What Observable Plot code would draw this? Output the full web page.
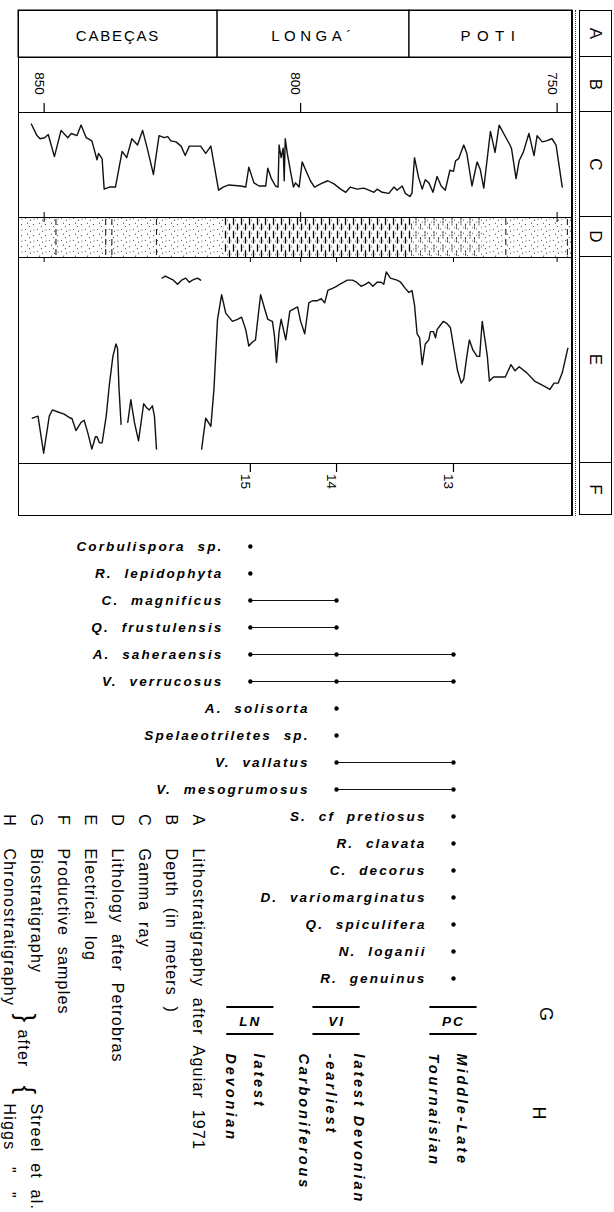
<!DOCTYPE html>
<html>
<head>
<meta charset="utf-8">
<script src="https://cdn.jsdelivr.net/npm/d3@7"></script>
<script src="https://cdn.jsdelivr.net/npm/@observablehq/plot@0.6"></script>
<style>
html, body { margin: 0; padding: 0; background: #fff; }
#fig { position: relative; width: 614px; height: 1212px; overflow: hidden; background: #fff;
       font-family: "Liberation Sans", Arial, sans-serif; color: #000; }
.panel { position: absolute; left: 0; width: 614px; }
.rc { position: absolute; left: 579px; width: 33px; box-sizing: border-box; border: 1px solid #000; }
.rc .cell { position: absolute; left: 0; right: 0; box-sizing: border-box; border-bottom: 1px solid #000;
            display: flex; align-items: center; justify-content: center; }
.rc .cell:last-child { border-bottom: none; }
.rc .cell span { display: inline-block; transform: rotate(90deg); font-size: 17px; line-height: 1; }
.vline { position: absolute; }
</style>
</head>
<body>
<div id="fig"></div>
<script>
// ---------------- DATA ----------------
const formations = ["CABEÇAS", "LONGA\u00B4", "POTI"];
const formationTop = [855, 816.2, 778.8];
const formationBase = [816.2, 778.8, 747];

const depthTicks = [850, 800, 750];

// Gamma ray (C): depth (m) and relative reading (0 = top of track)
const gammaDepth = [852.5, 851.4, 850.8, 849.9, 849.2, 848.0, 846.7, 845.4, 844.7, 843.6,
  842.8, 841.8, 840.7, 839.7, 839.4, 838.7, 838.3, 837.3, 836.1, 834.8,
  833.9, 832.9, 831.8, 830.8, 829.8, 828.7, 827.6, 826.6, 825.9, 825.3,
  824.3, 823.3, 822.5, 821.7, 819.9, 819.5, 818.5, 817.5, 816.0, 815.1,
  814.0, 811.7, 810.7, 810.1, 809.1, 808.1, 806.8, 806.4, 805.7, 804.9,
  804.4, 804.2, 803.8, 803.4, 803.2, 803.0, 802.6, 801.9, 801.4, 801.0,
  800.3, 799.7, 799.0, 798.1, 797.3, 796.1, 794.7, 793.5, 792.2, 791.2,
  790.3, 789.0, 787.7, 786.7, 785.7, 785.1, 784.1, 782.8, 781.8, 781.2,
  780.2, 779.6, 778.7, 778.3, 777.8, 777.0, 776.3, 775.7, 775.0, 774.2,
  773.4, 772.6, 771.8, 770.9, 770.2, 769.8, 769.2, 768.2, 767.6, 766.6,
  765.6, 765.0, 764.3, 763.0, 762.1, 761.3, 759.3, 758.9, 758.0, 757.4,
  756.6, 755.5, 754.5, 753.9, 752.9, 752.1, 751.0, 750.2, 749.0];
const gammaValue = [11, 22, 25, 24, 21, 42, 17, 24, 20, 22,
  12, 24, 27, 45, 39, 44, 73, 71, 71, 37,
  43, 25, 31, 17, 36, 59, 22, 24, 23, 27,
  28, 32, 41, 32, 32, 32, 39, 32, 74, 71,
  69, 70, 71, 52, 67, 70, 70, 53, 63, 70,
  71, 31, 43, 34, 65, 25, 39, 58, 71, 67,
  71, 47, 55, 65, 71, 68, 65, 68, 73, 76,
  71, 73, 72, 74, 76, 73, 76, 77, 71, 74,
  70, 77, 80, 77, 43, 62, 73, 64, 67, 76,
  61, 70, 74, 55, 56, 46, 44, 31, 39, 70,
  47, 54, 72, 18, 38, 12, 30, 34, 63, 46,
  38, 20, 41, 22, 28, 27, 25, 31, 71];

// Electrical log (E): NaN marks a gap in the record
const elogDepth = [852.3, 851.2, 850.1, 849.0, 848.4, 847.3, 846.1, 844.9, 844.6, 843.8,
  842.8, 842.2, 841.5, 840.7, 840.0, 839.7, 839.2, 838.7, 837.9, 837.3,
  836.6, 836.0, 835.7, 835.4, 835.0,
  834.4,
  833.7, 833.1, 832.4, 831.6, 830.6, 830.0, 829.5, 828.9, 828.5, 828.1,
  827.5,
  827.0, 826.4, 825.6, 824.8, 824.0, 823.2, 822.4, 821.7, 821.1, 820.1, 819.5,
  819.4,
  819.3, 818.5, 817.5, 816.9, 816.2, 815.4, 814.6, 813.3, 812.3, 811.5,
  810.7, 810.1, 809.4, 808.8, 808.4, 807.8, 807.0, 806.4, 805.5, 805.1,
  804.7, 804.2, 803.8, 802.9, 802.1, 800.6, 800.0, 799.2, 798.4, 797.7,
  796.8, 796.0, 795.3, 794.7, 793.8, 793.0, 792.4, 791.6, 790.9, 789.9,
  789.1, 788.2, 787.4, 786.7, 785.9, 785.1, 784.3, 783.8, 783.3, 782.5,
  781.2, 780.5, 779.6, 778.9, 778.3, 777.8, 777.3, 776.8, 776.3, 775.7,
  775.0, 774.7, 774.1, 773.7, 773.4, 772.8, 772.2, 771.5, 770.8, 770.0,
  769.4, 768.7, 768.2, 767.6, 767.1, 766.4, 765.6, 765.1, 764.6, 764.0,
  763.6, 763.2, 762.4, 760.1, 759.0, 758.2, 757.4, 755.9, 754.4, 752.9,
  751.4, 750.6, 749.8, 749.0, 747.9];
const elogValue = [78, 77, 95, 77, 74, 75, 76, 78, 78, 84,
  80, 79, 85, 93, 87, 87, 90, 90, 77, 62,
  48, 42, 44, 64, 81,
  NaN,
  80, 69, 80, 89, 71, 73, 74, 72, 77, 93,
  NaN,
  10, 9, 10, 11, 13, 11, 10, 12, 11, 10, 11,
  NaN,
  93, 78, 82, 64, 30, 18, 27, 31, 30, 29,
  35, 43, 41, 40, 31, 18, 25, 30, 31, 38,
  51, 36, 30, 40, 26, 24, 31, 37, 22, 21,
  21, 20, 22, 16, 15, 14, 13, 12, 11, 11,
  12, 14, 13, 12, 14, 12, 12, 13, 7, 10,
  11, 12, 15, 17, 16, 23, 37, 39, 52, 42,
  40, 36, 36, 39, 35, 33, 31, 32, 34, 46,
  55, 61, 59, 48, 40, 45, 48, 48, 31, 41,
  48, 60, 58, 58, 52, 55, 53, 56, 60, 62,
  64, 61, 61, 56, 44];

// Lithology (D)
const lithoTop = [855.0, 815.0, 778.4, 764.5];
const lithoBase = [815.0, 778.4, 764.5, 747.0];
const lithoType = ["sandstone", "shale", "siltstone", "sandstone"];
const shaleStreaks = [847.7, 838.0, 836.8, 828.1, 760.0, 748.0];

// Productive samples (F)
const samples = ["15", "14", "13"];
const sampleDepth = [809.8, 793.0, 770.2];

// Biostratigraphy (G)
const species = ["Corbulispora sp.", "R. lepidophyta", "C. magnificus", "Q. frustulensis",
  "A. saheraensis", "V. verrucosus", "A. solisorta", "Spelaeotriletes sp.", "V. vallatus",
  "V. mesogrumosus", "S. cf pretiosus", "R. clavata", "C. decorus", "D. variomarginatus",
  "Q. spiculifera", "N. loganii", "R. genuinus"];
const speciesFirst = ["15", "15", "15", "15", "15", "15", "14", "14", "14", "14",
  "13", "13", "13", "13", "13", "13", "13"];
const speciesLast = ["15", "15", "14", "14", "13", "13", "14", "14", "13", "13",
  "13", "13", "13", "13", "13", "13", "13"];

const zones = ["LN", "VI", "PC"];
const zoneSample = ["15", "14", "13"];

// Chronostratigraphy (H)
const chronoZone = ["LN", "LN", "VI", "VI", "VI", "PC", "PC"];
const chronoText = ["latest", "Devonian", "latest Devonian", "-earliest", "Carboniferous",
  "Middle-Late", "Tournaisian"];

// Key
const rowLetters = ["A", "B", "C", "D", "E", "F"];
const legendKeys = ["A", "B", "C", "D", "E", "F", "G", "H"];
const legendTexts = ["Lithostratigraphy after Aguiar 1971", "Depth (in meters )", "Gamma ray",
  "Lithology after Petrobras", "Electrical log", "Productive samples", "Biostratigraphy",
  "Chronostratigraphy"];
const creditKeys = ["G", "H"];
const creditTexts = ["Streel et al.", "Higgs"];

// ---------------- LAYOUT / RENDER ----------------
const fig = document.getElementById("fig");
const W = 614;
const FONT = '"Liberation Sans", Arial, sans-serif';
const baseStyle = {fontFamily: FONT, overflow: "visible", background: "transparent", color: "#000"};
const base = {width: W, marginLeft: 18, marginRight: 42, marginTop: 0, marginBottom: 0,
  x: {domain: [855, 747], axis: null}};

function place(svg, top, height) {
  const div = document.createElement("div");
  div.className = "panel";
  div.style.top = top + "px";
  div.style.height = height + "px";
  div.appendChild(svg);
  fig.appendChild(div);
  return svg;
}

const sampleIdx = Object.fromEntries(samples.map((s, i) => [s, i]));

// Row A: lithostratigraphy
const formationTable = formations.map((name, i) => ({name, top: formationTop[i], base: formationBase[i]}));
const svgA = place(Plot.plot({...base, height: 47, style: baseStyle, marks: [
  Plot.rect(formationTable, {x1: "top", x2: "base", stroke: "black", fill: "none", strokeWidth: 1}),
  Plot.text(formationTable, {x: d => (d.top + d.base) / 2, text: "name", frameAnchor: "middle", dy: 2, fontSize: 15}),
  Plot.frame({strokeWidth: 1})
]}), 10, 47);
const spacingA = ["1.8px", "4.5px", "6.5px"];
d3.select(svgA).selectAll("text").each(function(d, i) { this.style.letterSpacing = spacingA[i]; });

// Row B: depth
place(Plot.plot({...base, height: 55, style: baseStyle, marks: [
  Plot.tickX(depthTicks, {x: d => d, insetTop: 46, strokeWidth: 1.2}),
  Plot.text(depthTicks, {x: d => d, text: d => String(d), frameAnchor: "top", dy: 26, rotate: 90, fontSize: 13.5}),
  Plot.frame({strokeWidth: 1})
]}), 57, 55);

// Row C: gamma ray
const gamma = gammaDepth.map((d, i) => ({depth: d, value: gammaValue[i]}));
place(Plot.plot({...base, height: 105, style: baseStyle,
  y: {domain: [0, 100], range: [0, 105], axis: null},
  marks: [
    Plot.line(gamma, {x: "depth", y: "value", stroke: "#111", strokeWidth: 1.4, strokeLinejoin: "round"}),
    Plot.tickX(depthTicks, {x: d => d, insetTop: 100}),
    Plot.frame({strokeWidth: 1})
  ]}), 112, 105);

// Row D: lithology
const litho = lithoTop.map((t, i) => ({top: t, base: lithoBase[i], type: lithoType[i]}));
const svgD = place(Plot.plot({...base, height: 40, style: baseStyle, marks: [
  Plot.rect(litho.filter(d => d.type === "sandstone"), {x1: "top", x2: "base", fill: "url(#lith-sand)"}),
  Plot.rect(litho.filter(d => d.type === "shale"), {x1: "top", x2: "base", fill: "url(#lith-shale)"}),
  Plot.rect(litho.filter(d => d.type === "siltstone"), {x1: "top", x2: "base", fill: "url(#lith-silt)"}),
  Plot.tickX(shaleStreaks, {x: d => d, stroke: "#222", strokeWidth: 1.1, strokeDasharray: "6,4", insetTop: 2, insetBottom: 2}),
  Plot.tickX(depthTicks, {x: d => d, insetBottom: 35}),
  Plot.frame({strokeWidth: 1})
]}), 217, 40);
(function addPatterns(svg) {
  const defs = d3.select(svg).insert("defs", ":first-child");
  const dots = [[1.5, 1.5], [6.5, 3.2], [3.5, 6.2], [9.5, 7.6], [5.5, 9.6], [10, 2]];
  const sand = defs.append("pattern").attr("id", "lith-sand").attr("patternUnits", "userSpaceOnUse")
    .attr("width", 12).attr("height", 11);
  dots.forEach(([cx, cy]) => sand.append("circle").attr("cx", cx).attr("cy", cy).attr("r", 0.6).attr("fill", "#444"));
  const shale = defs.append("pattern").attr("id", "lith-shale").attr("patternUnits", "userSpaceOnUse")
    .attr("width", 8).attr("height", 13.333);
  shale.append("line").attr("x1", 1.5).attr("x2", 1.5).attr("y1", 0.5).attr("y2", 8).attr("stroke", "#000").attr("stroke-width", 1.3);
  shale.append("line").attr("x1", 5.5).attr("x2", 5.5).attr("y1", 6.5).attr("y2", 13.3).attr("stroke", "#000").attr("stroke-width", 1.3);
  [[3.5, 3], [7.3, 10.5], [3.5, 11]].forEach(([cx, cy]) => shale.append("circle").attr("cx", cx).attr("cy", cy).attr("r", 0.55).attr("fill", "#444"));
  const silt = defs.append("pattern").attr("id", "lith-silt").attr("patternUnits", "userSpaceOnUse")
    .attr("width", 9).attr("height", 13.333);
  silt.append("line").attr("x1", 2).attr("x2", 2).attr("y1", 1).attr("y2", 8).attr("stroke", "#222").attr("stroke-width", 1.1).attr("stroke-dasharray", "2,1");
  silt.append("line").attr("x1", 6.5).attr("x2", 6.5).attr("y1", 7).attr("y2", 13).attr("stroke", "#222").attr("stroke-width", 1.1).attr("stroke-dasharray", "2,1");
  [[4.5, 3], [8.5, 5], [4.5, 10.5], [8.5, 12]].forEach(([cx, cy]) => silt.append("circle").attr("cx", cx).attr("cy", cy).attr("r", 0.55).attr("fill", "#444"));
})(svgD);

// Row E: electrical log
let seg = 0;
const elog = [];
elogDepth.forEach((d, i) => {
  if (Number.isNaN(elogValue[i])) { seg++; return; }
  elog.push({depth: d, value: elogValue[i], seg});
});
place(Plot.plot({...base, height: 206, style: baseStyle,
  y: {domain: [0, 100], range: [0, 206], axis: null},
  marks: [
    Plot.line(elog, {x: "depth", y: "value", z: "seg", stroke: "#111", strokeWidth: 1.4, strokeLinejoin: "round"}),
    Plot.tickX(depthTicks.concat(sampleDepth), {x: d => d, insetBottom: 201}),
    Plot.frame({strokeWidth: 1})
  ]}), 257, 206);

// Row F: productive samples
const sampleTable = samples.map((s, i) => ({sample: s, depth: sampleDepth[i]}));
place(Plot.plot({...base, height: 52, style: baseStyle, marks: [
  Plot.tickX(sampleTable, {x: "depth", insetBottom: 43, strokeWidth: 1.2}),
  Plot.text(sampleTable, {x: "depth", text: "sample", frameAnchor: "top", dy: 18, rotate: 90, fontSize: 13.5}),
  Plot.frame({strokeWidth: 1})
]}), 463, 52);

// Right column with row letters
const rowEdges = [10, 57, 112, 217, 257, 463, 515];
const rc = document.createElement("div");
rc.className = "rc";
rc.style.top = rowEdges[0] + "px";
rc.style.height = (rowEdges[6] - rowEdges[0]) + "px";
rowLetters.forEach((L, i) => {
  const c = document.createElement("div");
  c.className = "cell";
  c.style.top = (rowEdges[i] - rowEdges[0] - 1) + "px";
  c.style.height = (rowEdges[i + 1] - rowEdges[i]) + "px";
  const s = document.createElement("span");
  s.textContent = L;
  c.appendChild(s);
  rc.appendChild(c);
});
fig.appendChild(rc);
const v1 = document.createElement("div");
v1.className = "vline";
Object.assign(v1.style, {left: "571px", top: "10px", width: "2px", height: "505px", background: "#000"});
fig.appendChild(v1);
const v2 = document.createElement("div");
v2.className = "vline";
Object.assign(v2.style, {left: "575px", top: "10px", width: "0px", height: "506px", borderLeft: "1px dotted #333"});
fig.appendChild(v2);

// G: range chart
const spTable = species.map((name, i) => {
  const fi = sampleIdx[speciesFirst[i]], li = sampleIdx[speciesLast[i]];
  return {name, fi, li, first: sampleDepth[fi], last: sampleDepth[li]};
});
const occ = spTable.flatMap(d => d3.range(d.fi, d.li + 1).map(k => ({name: d.name, depth: sampleDepth[k]})));
place(Plot.plot({...base, height: 480,
  style: {...baseStyle, letterSpacing: "2.1px", wordSpacing: "6px"},
  y: {type: "point", domain: species, range: [25, 459], padding: 0, axis: null},
  marks: [
    Plot.ruleY(spTable.filter(d => d.li > d.fi), {y: "name", x1: "first", x2: "last", stroke: "#111", strokeWidth: 1.1}),
    Plot.dot(occ, {x: "depth", y: "name", r: 2.2, fill: "#000"}),
    Plot.text(spTable, {x: "first", y: "name", text: "name", textAnchor: "end", dx: -27,
      fontSize: 13.5, fontWeight: "bold", fontStyle: "italic"})
  ]}), 520, 480);

// Zone boxes (LN / VI / PC) and G label
const zoneTable = zones.map((z, i) => ({zone: z, depth: sampleDepth[sampleIdx[zoneSample[i]]]}));
place(Plot.plot({...base, height: 45, style: {...baseStyle, letterSpacing: "2px"}, marks: [
  Plot.rect(zoneTable, {x1: d => d.depth + 4.6, x2: d => d.depth - 4.6, fill: "#000", insetTop: 6, insetBottom: 37}),
  Plot.rect(zoneTable, {x1: d => d.depth + 4.6, x2: d => d.depth - 4.6, fill: "#000", insetTop: 33, insetBottom: 10}),
  Plot.text(zoneTable, {x: "depth", text: "zone", frameAnchor: "middle", dy: -1, fontSize: 13.5,
    fontWeight: "bold", fontStyle: "italic"}),
  Plot.text(["G"], {text: d => d, frameAnchor: "right", dx: -27, dy: 0, rotate: 90, fontSize: 18, fontWeight: "normal"})
]}), 1000, 45);

// H: chronostratigraphy
const zoneDepth = Object.fromEntries(zoneTable.map(d => [d.zone, d.depth]));
const chrono = chronoText.map((t, i) => ({zone: chronoZone[i], text: t}));
chrono.forEach(d => {
  const group = chrono.filter(e => e.zone === d.zone);
  d.k = group.indexOf(d);
  d.n = group.length;
});
place(Plot.plot({...base, height: 160, style: {...baseStyle, letterSpacing: "2.9px"}, marks: [
  Plot.text(chrono, {x: d => zoneDepth[d.zone], text: "text", frameAnchor: "top", dy: 5,
    rotate: 90, textAnchor: "start", fontSize: 14.5, fontWeight: "bold", fontStyle: "italic"}),
  Plot.text(["H"], {text: d => d, frameAnchor: "top-right", dx: -27, dy: 74, rotate: 90, fontSize: 18})
]}), 1048, 160);
// stack the lines of each chronostratigraphic label (first line rightmost)
(function() {
  const svg = fig.lastChild.firstChild;
  d3.select(svg).selectAll("g[aria-label='text']").filter((d, i) => i === 0).selectAll("text")
    .each(function(d, i) {
      const c = chrono[i];
      const off = -(c.k - (c.n - 1) / 2) * 27.5;
      const t = this.getAttribute("transform");
      this.setAttribute("transform", `translate(${off},0) ` + t);
    });
})();

// Key
const legendTable = legendKeys.map((k, i) => ({key: k, text: legendTexts[i]}));
const creditTable = creditKeys.map((k, i) => ({key: k, text: creditTexts[i]}));
place(Plot.plot({width: W, height: 412, marginLeft: 0, marginRight: 0, marginTop: 0, marginBottom: 0,
  style: {...baseStyle, letterSpacing: "1.2px", wordSpacing: "5px"},
  x: {type: "point", domain: legendKeys, range: [205, 13], padding: 0, axis: null},
  marks: [
    Plot.text(legendTable, {x: "key", text: "key", frameAnchor: "top", dy: 20, rotate: 90, fontSize: 16}),
    Plot.text(legendTable, {x: "key", text: "text", frameAnchor: "top", dy: 48, rotate: 90, textAnchor: "start", fontSize: 16}),
    Plot.text(["}"], {x: () => "G", text: d => d, frameAnchor: "top", dx: -7, dy: 218, rotate: 90, fontSize: 26}),
    Plot.text(["after"], {x: () => "G", text: d => d, frameAnchor: "top", dx: -13.5, dy: 229, rotate: 90, textAnchor: "start", fontSize: 16}),
    Plot.text(["{"], {x: () => "G", text: d => d, frameAnchor: "top", dx: -7, dy: 290, rotate: 90, fontSize: 26}),
    Plot.text(creditTable, {x: "key", text: "text", frameAnchor: "top", dy: 303, rotate: 90, textAnchor: "start", fontSize: 16}),
    Plot.text(["\"", "\""], {x: () => "H", text: d => d, frameAnchor: "top", rotate: 90, fontSize: 16})
  ]}), 800, 400);
// position the two ditto marks below "Higgs"
(function() {
  const svg = fig.lastChild.firstChild;
  const groups = d3.select(svg).selectAll("g[aria-label='text']").nodes();
  const last = groups[groups.length - 1];
  d3.select(last).selectAll("text").each(function(d, i) {
    const t = this.getAttribute("transform");
    this.setAttribute("transform", `translate(0,${[370, 395][i]}) ` + t);
  });
})();
</script>
</body>
</html>
